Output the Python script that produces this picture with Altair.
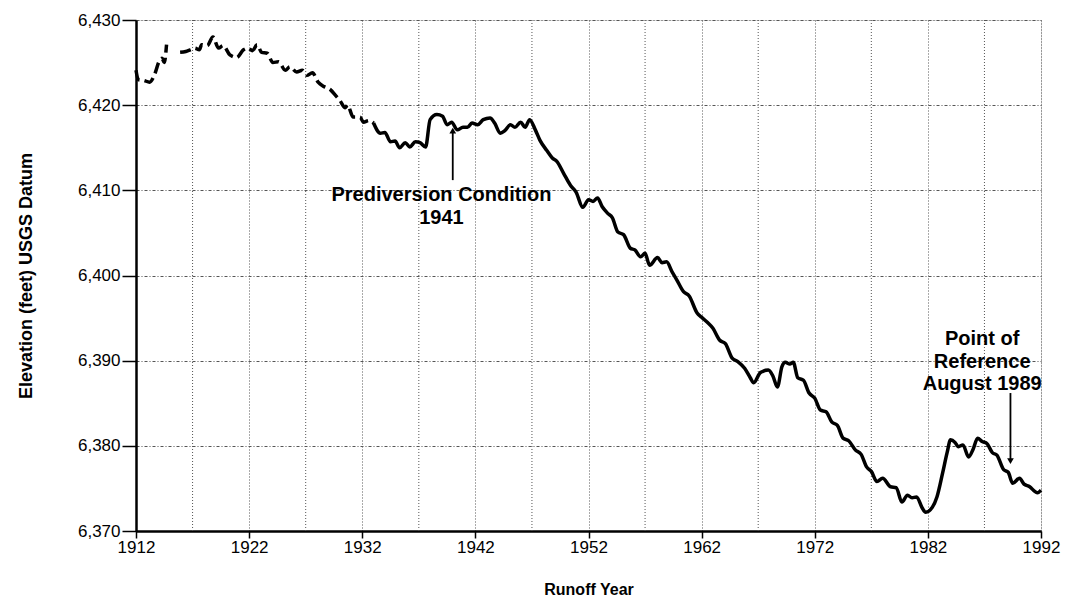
import altair as alt
import pandas as pd

# ---- data ----
# estimated record (dashed), two pieces with a gap
years_a = [1912.0, 1912.2, 1912.7, 1913.2, 1913.7, 1914.0, 1914.3, 1914.5, 1914.7]
elev_a = [6424.1, 6423.0, 6422.9, 6422.7, 6423.8, 6425.0, 6425.5, 6425.0, 6427.1]

years_b = [1915.9, 1916.4, 1916.8, 1917.2, 1917.6, 1917.8, 1918.3, 1918.8, 1919.3, 1919.7,
           1920.3, 1920.9, 1921.5, 1921.9, 1922.3, 1922.7, 1923.1, 1923.6, 1924.1, 1924.6,
           1925.2, 1925.6, 1926.2, 1926.7, 1927.1, 1927.6, 1928.1, 1928.6, 1929.2, 1929.6,
           1930.0, 1930.5, 1930.7, 1931.2, 1931.8, 1932.1, 1932.6, 1933.0]
elev_b = [6426.2, 6426.3, 6426.5, 6426.7, 6426.5, 6427.1, 6427.0, 6428.0, 6426.7, 6427.0,
          6425.9, 6425.6, 6426.5, 6426.7, 6426.4, 6427.1, 6426.2, 6426.1, 6425.0, 6425.1,
          6424.1, 6424.5, 6423.9, 6424.1, 6423.5, 6423.8, 6422.7, 6422.2, 6421.8, 6421.2,
          6420.6, 6419.7, 6420.0, 6418.6, 6418.6, 6418.0, 6418.2, 6417.9]

# measured record (solid)
years_c = [1933.0, 1933.6, 1934.0, 1934.5, 1934.9, 1935.3, 1935.8, 1936.2, 1936.7, 1937.1,
           1937.6, 1938.0, 1938.6, 1939.1, 1939.5, 1939.9, 1940.4, 1940.9, 1941.3, 1941.7,
           1942.2, 1942.7, 1943.3, 1943.7, 1944.2, 1944.6, 1945.1, 1945.5, 1946.0, 1946.4,
           1946.8, 1947.3, 1947.7, 1948.3, 1948.8, 1949.2, 1949.8, 1950.4, 1950.9, 1951.5,
           1952.0, 1952.4, 1952.8, 1953.2, 1953.7, 1954.1, 1954.6, 1955.1, 1955.7, 1956.1,
           1956.6, 1957.0, 1957.4, 1958.1, 1958.5, 1958.9, 1959.4, 1959.8, 1960.4, 1960.9,
           1961.6, 1962.0, 1962.5, 1963.0, 1963.6, 1964.1, 1964.7, 1965.2, 1965.8, 1966.3,
           1966.6, 1967.2, 1967.9, 1968.3, 1968.7, 1969.1, 1969.4, 1969.8, 1970.1, 1970.5,
           1971.0, 1971.5, 1972.0, 1972.5, 1973.0, 1973.5, 1974.0, 1974.5, 1975.0, 1975.6,
           1976.1, 1976.6, 1977.0, 1977.5, 1978.0, 1978.7, 1979.2, 1979.7, 1980.2, 1980.6,
           1981.0, 1981.5, 1981.8, 1982.4, 1982.8, 1983.3, 1983.7, 1984.0, 1984.4, 1984.7,
           1985.1, 1985.6, 1986.0, 1986.4, 1986.8, 1987.2, 1987.7, 1988.1, 1988.7, 1989.1,
           1989.5, 1990.1, 1990.5, 1991.0, 1991.5, 1991.7, 1992.0]
elev_c = [6417.9, 6416.7, 6416.8, 6415.7, 6415.8, 6415.0, 6415.6, 6415.1, 6415.7, 6415.6,
          6415.1, 6418.3, 6418.9, 6418.7, 6417.7, 6418.0, 6417.1, 6417.4, 6417.4, 6417.9,
          6417.7, 6418.3, 6418.5, 6417.9, 6416.7, 6417.0, 6417.7, 6417.4, 6418.0, 6417.4,
          6418.3, 6417.1, 6415.9, 6414.7, 6413.8, 6413.4, 6412.0, 6410.6, 6409.8, 6408.0,
          6408.9, 6408.7, 6409.1, 6408.1, 6407.3, 6406.8, 6405.1, 6404.8, 6403.2, 6403.0,
          6402.2, 6402.6, 6401.2, 6402.1, 6401.5, 6401.6, 6400.4, 6399.5, 6398.1, 6397.6,
          6395.6, 6395.1, 6394.5, 6393.8, 6392.4, 6392.0, 6390.3, 6389.9, 6389.1, 6388.0,
          6387.4, 6388.6, 6388.9, 6388.2, 6386.9, 6389.3, 6389.8, 6389.6, 6389.8, 6388.0,
          6387.7, 6386.2, 6385.6, 6384.2, 6384.0, 6382.8, 6382.4, 6380.9, 6380.6, 6379.5,
          6379.0, 6377.5, 6377.0, 6375.8, 6376.2, 6375.2, 6375.1, 6373.4, 6374.2, 6373.9,
          6374.0, 6372.7, 6372.2, 6372.8, 6374.0, 6376.8, 6379.2, 6380.7, 6380.4, 6379.9,
          6380.1, 6378.7, 6379.6, 6380.9, 6380.5, 6380.3, 6379.2, 6378.9, 6377.2, 6376.9,
          6375.6, 6376.2, 6375.5, 6375.2, 6374.6, 6374.5, 6374.8]

x_ticks = [1912, 1922, 1932, 1942, 1952, 1962, 1972, 1982, 1992]
x_minor_grid = [1917, 1927, 1937, 1947, 1957, 1967, 1977, 1987]
y_ticks = [6370, 6380, 6390, 6400, 6410, 6420, 6430]

ann_text = ["Prediversion Condition", "1941", "Point of", "Reference", "August 1989"]
ann_year = [1939.0, 1939.0, 1986.8, 1986.8, 1986.8]
ann_elev = [6409.4, 6406.8, 6392.5, 6389.9, 6387.3]

arrow_year = [1940.0, 1989.3]
arrow_from = [6411.2, 6386.2]
arrow_to = [6417.0, 6378.2]
arrow_shape = ["triangle-up", "triangle-down"]

# ---- tables ----
dashed = pd.DataFrame({
    "year": years_a + years_b,
    "elev": elev_a + elev_b,
    "seg": ["a"] * len(years_a) + ["b"] * len(years_b),
})
solid = pd.DataFrame({"year": years_c, "elev": elev_c})
grid5 = pd.DataFrame({"year": x_minor_grid})
ann = pd.DataFrame({"text": ann_text, "year": ann_year, "elev": ann_elev})
arrows = pd.DataFrame({"year": arrow_year, "y1": arrow_from, "y2": arrow_to, "shape": arrow_shape})

FONT = "Liberation Sans, Arial, Helvetica, sans-serif"

xscale = alt.Scale(domain=[1912, 1992], nice=False, zero=False)
yscale = alt.Scale(domain=[6370, 6430], nice=False, zero=False)

x_axis = alt.Axis(
    values=x_ticks, format="d", title="Runoff Year", labelFlush=False,
    grid=True, gridColor="#555", gridDash=[1, 2], gridWidth=1,
    domainColor="black", domainWidth=2.5, tickColor="black", tickWidth=1.5, tickSize=7,
    labelFont=FONT, labelFontSize=17, labelColor="black", labelPadding=1,
    titleFont=FONT, titleFontSize=16, titleFontWeight="bold", titleColor="black", titlePadding=26,
)
y_axis = alt.Axis(
    values=y_ticks, format=",d", title="Elevation (feet) USGS Datum", labelFlush=False,
    grid=True, gridColor="#555", gridDash=[3, 2, 1, 2], gridWidth=1,
    domainColor="black", domainWidth=2.5, tickColor="black", tickWidth=1.5, tickSize=14,
    labelFont=FONT, labelFontSize=17, labelColor="black", labelPadding=2,
    titleFont=FONT, titleFontSize=18, titleFontWeight="bold", titleColor="black", titlePadding=42,
)


def X(field):
    return alt.X(field, type="quantitative", scale=xscale, axis=x_axis)


def Y(field):
    return alt.Y(field, type="quantitative", scale=yscale, axis=y_axis)


grid_layer = alt.Chart(grid5).mark_rule(color="#555", strokeDash=[1, 2], strokeWidth=1).encode(
    x=X("year")
)

solid_layer = alt.Chart(solid).mark_line(color="black", strokeWidth=3.5, interpolate="monotone").encode(
    x=X("year"), y=Y("elev"),
)

dashed_layer = alt.Chart(dashed).mark_line(
    color="black", strokeWidth=3.5, strokeDash=[11, 5], interpolate="monotone"
).encode(
    x=X("year"), y=Y("elev"), detail="seg:N",
)

arrow_rule = alt.Chart(arrows).mark_rule(color="black", strokeWidth=1.8).encode(
    x=X("year"), y=Y("y1"), y2="y2:Q",
)
arrow_head = alt.Chart(arrows).mark_point(filled=True, color="black", size=45, opacity=1).encode(
    x=X("year"), y=Y("y2"),
    shape=alt.Shape("shape:N", scale=None, legend=None),
)

text_layer = alt.Chart(ann).mark_text(
    font=FONT, fontSize=20, fontWeight="bold", color="black", align="center", baseline="middle"
).encode(
    x=X("year"), y=Y("elev"), text="text:N",
)

chart = alt.layer(
    grid_layer, solid_layer, dashed_layer, arrow_rule, arrow_head, text_layer
).properties(
    width=905, height=511,
    autosize=alt.AutoSizeParams(type="none"),
    padding={"left": 128, "top": 12, "right": 20, "bottom": 68},
).configure_view(stroke=None).configure(background="white")

chart.save("out.html", embed_options={"renderer": "svg", "actions": False})
